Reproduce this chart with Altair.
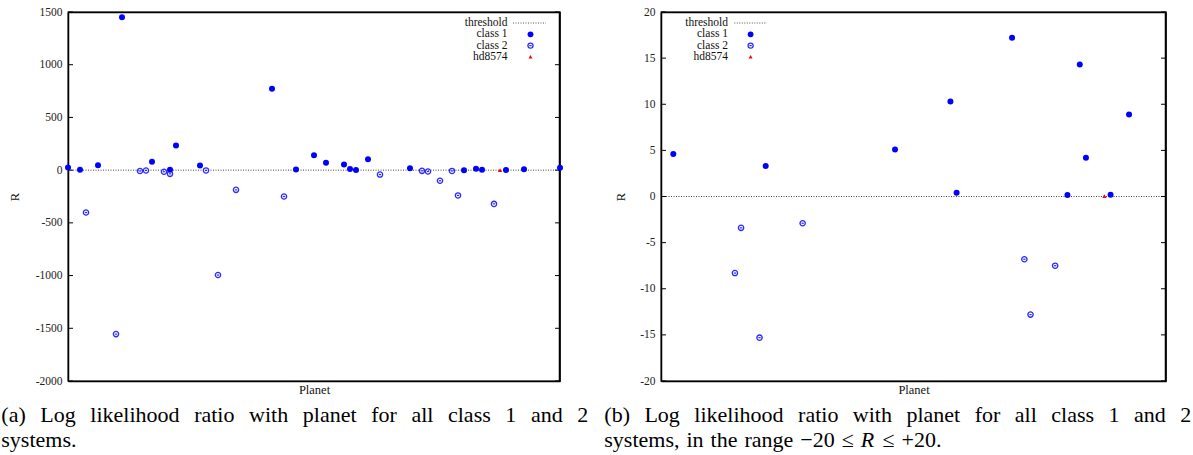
import altair as alt
import pandas as pd

# ---------------- data ----------------
class1_planet = [0, 2, 5, 9, 14, 17, 18, 22, 34, 38, 41, 43, 46, 47, 48, 50, 57, 66, 68, 69, 73, 76, 82]
class1_R = [25, 4.6, 47, 1450, 79, 3.3, 233, 44, 771, 5.1, 142, 69, 53, 10.3, 0.4, 104, 17.2, 0.15, 14.3, 4.2, 0.2, 8.9, 22]
class2_planet = [3, 8, 12, 13, 16, 17, 23, 25, 28, 36, 52, 59, 60, 62, 64, 65, 71]
class2_R = [-402, -1555, -8.3, -3.4, -15.3, -35, -2.9, -995, -187, -250, -42, -6.8, -12.8, -101, -7.5, -240, -320]
hd_planet = [72]
hd_R = [0.05]
threshold_R = [0]
left_ticks = [-2000, -1500, -1000, -500, 0, 500, 1000, 1500]
right_ticks = [-20, -15, -10, -5, 0, 5, 10, 15, 20]
legend_labels = ["threshold", "class 1", "class 2", "hd8574"]
caption_a = ["(a) Log likelihood ratio with planet for all class 1 and 2", "systems."]
caption_b = ["(b) Log likelihood ratio with planet for all class 1 and 2",
             "systems, in the range −20 ≤ R ≤ +20."]

df1 = pd.DataFrame({"planet": class1_planet, "R": class1_R})
df2 = pd.DataFrame({"planet": class2_planet, "R": class2_R})
dfh = pd.DataFrame({"planet": hd_planet, "R": hd_R})
dft = pd.DataFrame({"R": threshold_R})
dummy = pd.DataFrame({"a": [0]})

SERIF = "Liberation Serif"
BLUE = "#0000ff"
BLUE2 = "#2a2aff"
H = 369

# Times-like advance widths (per 1000 em) used to lay out caption words
CW = {' ': 250, '(': 333, ')': 333, ',': 250, '.': 250, '0': 500, '1': 500, '2': 500,
      '+': 564, '−': 564, '≤': 549, 'R': 667, 'L': 611, 'a': 444, 'b': 500, 'c': 444,
      'd': 500, 'e': 444, 'f': 333, 'g': 500, 'h': 500, 'i': 278, 'k': 500, 'l': 278,
      'm': 778, 'n': 500, 'o': 500, 'p': 500, 'r': 333, 's': 389, 't': 278, 'w': 722, 'y': 500}


def tw(s, size):
    return sum(CW.get(ch, 500) for ch in s) / 1000.0 * size


CAP_SIZE = 22


def caption_layers(lines, x0, x_end, y1, y2):
    layers = []
    words = lines[0].split(" ")
    widths = [tw(w, CAP_SIZE) for w in words]
    gap = (x_end - x0 - sum(widths)) / (len(words) - 1)
    x = x0
    for i, (w, wd) in enumerate(zip(words, widths)):
        if i == len(words) - 1:
            layers.append(alt.Chart(dummy).mark_text(text=w, font=SERIF, fontSize=CAP_SIZE, align="right",
                                                     baseline="alphabetic", color="black")
                          .encode(x=alt.value(x_end), y=alt.value(y1)))
        else:
            layers.append(alt.Chart(dummy).mark_text(text=w, font=SERIF, fontSize=CAP_SIZE, align="left",
                                                     baseline="alphabetic", color="black")
                          .encode(x=alt.value(x), y=alt.value(y1)))
        x += wd + gap
    words = lines[1].split(" ")
    x = x0
    for w in words:
        style = "italic" if w == "R" else "normal"
        layers.append(alt.Chart(dummy).mark_text(text=w, font=SERIF, fontSize=CAP_SIZE, align="left",
                                                 baseline="alphabetic", color="black", fontStyle=style)
                      .encode(x=alt.value(x), y=alt.value(y2)))
        x += tw(w, CAP_SIZE) + 7
    return layers


def legend_layers(lab_x, sym_x, line_x1, line_x2, rows):
    L = []
    for lab, ry in zip(legend_labels, rows):
        L.append(alt.Chart(dummy).mark_text(text=lab, font=SERIF, fontSize=11.5, align="right",
                                            baseline="middle", color="#111")
                 .encode(x=alt.value(lab_x), y=alt.value(ry)))
    L.append(alt.Chart(dummy).mark_rule(color="#555", strokeWidth=1, strokeDash=[1, 1.5])
             .encode(x=alt.value(line_x1), x2=alt.value(line_x2), y=alt.value(rows[0])))
    L.append(alt.Chart(dummy).mark_point(shape="circle", filled=True, size=34, color=BLUE, opacity=1)
             .encode(x=alt.value(sym_x), y=alt.value(rows[1])))
    L.append(alt.Chart(dummy).mark_point(shape="circle", filled=False, size=26, color=BLUE2, strokeWidth=1.3, opacity=1)
             .encode(x=alt.value(sym_x), y=alt.value(rows[2])))
    L.append(alt.Chart(dummy).mark_point(shape="stroke", size=5, color=BLUE2, strokeWidth=1.2, opacity=1)
             .encode(x=alt.value(sym_x), y=alt.value(rows[2])))
    L.append(alt.Chart(dummy).mark_point(shape="triangle-up", filled=True, size=16, color="#ff0000", opacity=1)
             .encode(x=alt.value(sym_x), y=alt.value(rows[3])))
    return L


def frame_layers(W):
    sty = dict(color="black", strokeWidth=1.5)
    return [
        alt.Chart(dummy).mark_rule(**sty).encode(x=alt.value(0.01), x2=alt.value(W), y=alt.value(0.5)),
        alt.Chart(dummy).mark_rule(**sty).encode(x=alt.value(W - 0.5), y=alt.value(0.01), y2=alt.value(H)),
    ]


def panel(W, ydom, ticks, rmin, rmax, legend, captions, title_pad):
    xs = alt.Scale(domain=[0, 82], nice=False, zero=False)
    ys = alt.Scale(domain=ydom, nice=False, zero=False)
    xenc = alt.X("planet:Q", scale=xs,
                 axis=alt.Axis(title="Planet", labels=False, ticks=False, domain=True, domainColor="black",
                               domainWidth=1.5, grid=False,
                               titleFont=SERIF, titleFontSize=12.5, titleFontWeight="normal",
                               titleColor="#111", titlePadding=2))
    yenc = alt.Y("R:Q", scale=ys,
                 axis=alt.Axis(title="R", values=ticks, labelExpr="datum.value + ''", ticks=False,
                               domain=True, domainColor="black", domainWidth=1.5, grid=False,
                               labelFont=SERIF, labelFontSize=11.5,
                               labelColor="#222", labelPadding=6, titleFont=SERIF, titleFontSize=12.5,
                               titleFontWeight="normal", titleColor="#111", titlePadding=title_pad))
    tick_df = pd.DataFrame({"R": ticks})
    flt = alt.FieldRangePredicate(field="R", range=[rmin, rmax])

    thr = alt.Chart(dft).mark_rule(color="#444", strokeWidth=1, strokeDash=[1, 1.5]).encode(
        y=alt.Y("R:Q", scale=ys), x=alt.value(0.01), x2=alt.value(W))
    tl = alt.Chart(tick_df).mark_rule(color="black", strokeWidth=1).encode(
        y=alt.Y("R:Q", scale=ys), x=alt.value(0.01), x2=alt.value(5))
    tr = alt.Chart(tick_df).mark_rule(color="black", strokeWidth=1).encode(
        y=alt.Y("R:Q", scale=ys), x=alt.value(W - 5), x2=alt.value(W))
    p2 = alt.Chart(df2).transform_filter(flt).mark_point(
        shape="circle", filled=False, size=28, color=BLUE2, strokeWidth=1.3, opacity=1).encode(x=xenc, y=yenc)
    p2d = alt.Chart(df2).transform_filter(flt).mark_point(
        shape="stroke", size=5, color=BLUE2, strokeWidth=1.2, opacity=1).encode(x=xenc, y=yenc)
    p1 = alt.Chart(df1).transform_filter(flt).mark_point(
        shape="circle", filled=True, size=36, color=BLUE, opacity=1).encode(x=xenc, y=yenc)
    ph = alt.Chart(dfh).transform_filter(flt).mark_point(
        shape="triangle-up", filled=True, size=18, color="#ff0000", opacity=1).encode(x=xenc, y=yenc)
    layers = [thr, tl, tr] + frame_layers(W) + [p2, p2d, p1, ph] + legend + captions
    return alt.layer(*layers).properties(width=W, height=H)


rows = [11, 22.3, 33.6, 44.8]
WL, WR = 492, 505
left = panel(WL, [-2000, 1500], left_ticks, -1e9, 1e9,
             legend_layers(439.5, 462.5, 445, 478, rows),
             caption_layers(caption_a, -66.7, 520.3, 410, 435), 14)
right = panel(WR, [-20, 20], right_ticks, -20, 20,
              legend_layers(67, 89.6, 73.3, 106, rows),
              caption_layers(caption_b, -56.7, 530.3, 410, 435), 12)

chart = alt.hconcat(left, right, spacing=101, bounds="flush").properties(
    padding={"left": 0, "top": 5, "right": 0, "bottom": 0}
).configure(
    background="white",
    view=alt.ViewConfig(stroke="black", strokeWidth=1.3),
)

chart.save("out.html", embed_options={"renderer": "svg", "actions": False})
